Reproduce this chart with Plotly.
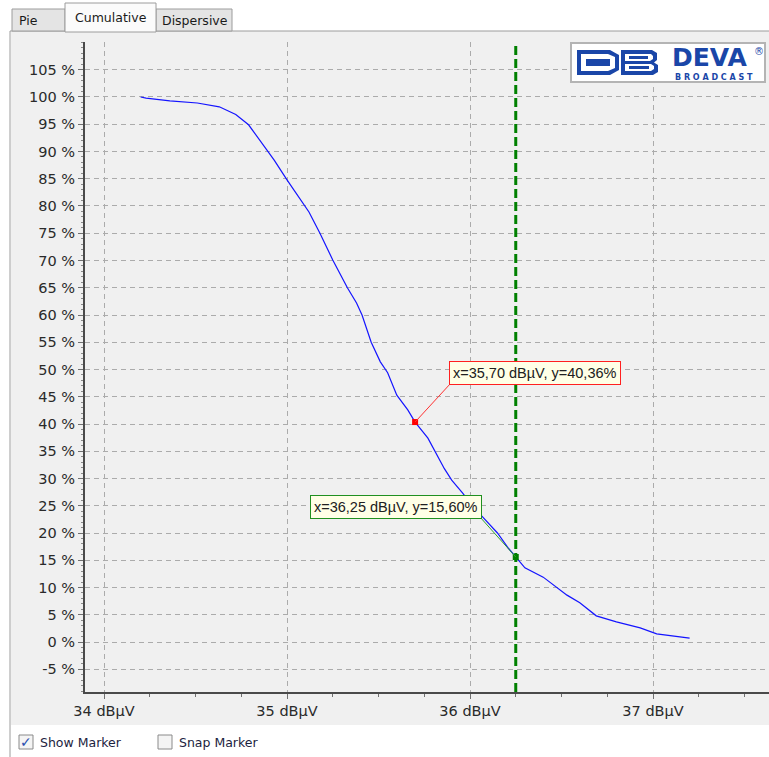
import plotly.graph_objects as go

# Cumulative distribution of measured field strength
level_dbuv = [34.20, 34.23, 34.36, 34.51, 34.63, 34.72, 34.79, 34.89, 34.93, 35.00,
              35.12, 35.18, 35.25, 35.33, 35.38, 35.41, 35.46, 35.51, 35.55, 35.60,
              35.66, 35.70, 35.77, 35.86, 35.90, 35.96, 36.01, 36.07, 36.15, 36.21,
              36.25, 36.30, 36.40, 36.53, 36.60, 36.69, 36.80, 36.93, 37.02, 37.11,
              37.20]
cumulative_pct = [100.0, 99.8, 99.3, 98.9, 98.2, 96.8, 94.9, 90.3, 88.4, 84.8,
                  78.9, 75.0, 70.1, 65.0, 62.2, 60.0, 55.0, 51.4, 49.4, 45.3,
                  42.6, 40.36, 37.4, 31.8, 29.7, 27.3, 25.1, 22.9, 20.0, 17.2,
                  15.60, 13.6, 11.9, 8.6, 7.2, 4.8, 3.7, 2.6, 1.5, 1.1,
                  0.7]

# Markers: (level, percent)
marker_red = (35.70, 40.36)
marker_green = (36.25, 15.60)
cursor_level = 36.25

x_ticks = [34, 35, 36, 37]
x_tick_labels = ["34 dBµV", "35 dBµV", "36 dBµV", "37 dBµV"]
y_ticks = list(range(-5, 110, 5))
y_tick_labels = [f"{v} %" for v in y_ticks]

W, H = 769, 757


def X(px):
    return px / W


def Y(py):
    return 1 - py / H


fig = go.Figure()

fig.add_trace(go.Scatter(
    x=level_dbuv, y=cumulative_pct, mode="lines",
    line=dict(color="#1414ff", width=1.2), hoverinfo="skip", showlegend=False))

fig.add_trace(go.Scatter(
    x=[marker_red[0]], y=[marker_red[1]], mode="markers",
    marker=dict(symbol="square", size=6, color="#ff0000"), showlegend=False))
fig.add_trace(go.Scatter(
    x=[marker_green[0]], y=[marker_green[1]], mode="markers",
    marker=dict(symbol="square", size=6, color="#008000"), showlegend=False))

shapes = []

# window chrome: panel, tabs
shapes.append(dict(type="rect", xref="paper", yref="paper", layer="below",
                   x0=X(11), x1=X(769), y0=Y(725), y1=Y(31),
                   fillcolor="#f0f0f0", line=dict(width=0)))
shapes.append(dict(type="line", xref="paper", yref="paper", layer="below",
                   x0=X(10), x1=X(769), y0=Y(31), y1=Y(31),
                   line=dict(color="#9c9c9c", width=1)))
shapes.append(dict(type="line", xref="paper", yref="paper", layer="below",
                   x0=X(10), x1=X(10), y0=Y(757), y1=Y(31),
                   line=dict(color="#9c9c9c", width=1)))
for x0, x1, top, bottom, fill in [(12, 65, 9, 31, "#e4e4e4"), (156, 232, 9, 31, "#e4e4e4"),
                                  (65, 156, 3, 32, "#fbfbfb")]:
    shapes.append(dict(type="rect", xref="paper", yref="paper", layer="below",
                       x0=X(x0), x1=X(x1), y0=Y(bottom), y1=Y(top),
                       fillcolor=fill, line=dict(color="#9c9c9c", width=1)))

# checkboxes
for cx in (19, 158):
    shapes.append(dict(type="rect", xref="paper", yref="paper",
                       x0=X(cx), x1=X(cx + 14), y0=Y(749), y1=Y(735),
                       fillcolor="#f4f4f4", line=dict(color="#8a8a8a", width=1)))

# logo box
shapes.append(dict(type="rect", xref="paper", yref="paper",
                   x0=X(571), x1=X(765), y0=Y(82), y1=Y(43),
                   fillcolor="#ffffff", line=dict(color="#b4b4b4", width=2)))


def path(points):
    return "M" + " L".join(f"{X(a):.5f},{Y(b):.5f}" for a, b in points) + " Z"


blue = "#1a46a8"
# "D" glyph
shapes.append(dict(type="path", xref="paper", yref="paper", fillcolor=blue, line=dict(width=0),
                   path=path([(577, 50), (610, 50), (619, 55), (619, 70), (610, 75), (577, 75)])))
shapes.append(dict(type="path", xref="paper", yref="paper", fillcolor="#ffffff", line=dict(width=0),
                   path=path([(581, 54), (608, 54), (615, 57), (615, 68), (608, 71), (581, 71)])))
shapes.append(dict(type="rect", xref="paper", yref="paper", fillcolor=blue, line=dict(width=0),
                   x0=X(586), x1=X(610), y0=Y(66), y1=Y(59)))
# "B" glyph
shapes.append(dict(type="path", xref="paper", yref="paper", fillcolor=blue, line=dict(width=0),
                   path=path([(621, 50), (652, 50), (657, 53), (657, 60), (654, 62.5), (658, 65),
                              (658, 72), (653, 75), (621, 75)])))
shapes.append(dict(type="path", xref="paper", yref="paper", fillcolor="#ffffff", line=dict(width=0),
                   path=path([(625, 54), (651, 54), (653, 56), (653, 59), (650, 61), (625, 61)])))
shapes.append(dict(type="path", xref="paper", yref="paper", fillcolor="#ffffff", line=dict(width=0),
                   path=path([(625, 64), (651, 64), (654, 66), (654, 69), (651, 71), (625, 71)])))
shapes.append(dict(type="rect", xref="paper", yref="paper", fillcolor=blue, line=dict(width=0),
                   x0=X(629), x1=X(649), y0=Y(69), y1=Y(66)))
shapes.append(dict(type="rect", xref="paper", yref="paper", fillcolor=blue, line=dict(width=0),
                   x0=X(629), x1=X(648), y0=Y(59), y1=Y(56)))

# cursor line
shapes.append(dict(type="line", xref="x", yref="paper",
                   x0=cursor_level, x1=cursor_level, y0=Y(692), y1=Y(42),
                   line=dict(color="#008000", width=3, dash="9px,4px")))


def label(text, px, py, font, anchor="center", **kw):
    return dict(text=text, x=X(px), y=Y(py), xref="paper", yref="paper",
                xanchor=anchor, yanchor="middle", showarrow=False, font=font, **kw)


ui_font = dict(family="DejaVu Sans", size=12.5, color="#1a1a1a")
chk_font = dict(family="DejaVu Sans", size=12.5, color="#1c2340")
annotations = [
    label("Pie", 28, 20, ui_font),
    label("Cumulative", 111, 17, ui_font),
    label("Dispersive", 195, 20, ui_font),
    label("Show Marker", 38, 742, chk_font, "left"),
    label("Snap Marker", 177, 742, chk_font, "left"),
    label("✓", 26, 742, dict(family="DejaVu Sans", size=14, color="#2a4fb0")),
    label("<b>DEVA</b>", 709, 57.5, dict(family="DejaVu Sans", size=25, color=blue)),
    label("®", 759, 51, dict(family="DejaVu Sans", size=10, color=blue)),
    label("<b>B R O A D C A S T</b>", 714, 77, dict(family="DejaVu Sans", size=8, color=blue)),
    # marker readouts
    dict(x=marker_red[0], y=marker_red[1], xref="x", yref="y",
         text=f"x={marker_red[0]:.2f} dBµV, y={marker_red[1]:.2f}%".replace(".", ","),
         showarrow=True, arrowhead=0, arrowwidth=1, arrowcolor="#ff3030", standoff=0,
         ax=34, ay=-37, xanchor="left", yanchor="bottom",
         bgcolor="#ffffe6", bordercolor="#ff2020", borderwidth=1, borderpad=3,
         font=dict(family="Liberation Sans", size=14.5, color="#202020")),
    dict(x=marker_green[0], y=marker_green[1], xref="x", yref="y",
         text=f"x={marker_green[0]:.2f} dBµV, y={marker_green[1]:.2f}%".replace(".", ","),
         showarrow=True, arrowhead=0, arrowwidth=1, arrowcolor="#30a030", standoff=0,
         ax=-34, ay=-38, xanchor="right", yanchor="bottom",
         bgcolor="#ffffe6", bordercolor="#209020", borderwidth=1, borderpad=3,
         font=dict(family="Liberation Sans", size=14.5, color="#202020")),
]

axis_font = dict(family="DejaVu Sans", size=14.5, color="#2a2a2a")
fig.update_layout(
    width=W, height=H,
    margin=dict(l=0, r=0, t=0, b=0, pad=0, autoexpand=False),
    paper_bgcolor="#ffffff",
    plot_bgcolor="#f0f0f0",
    showlegend=False,
    shapes=shapes,
    annotations=annotations,
    xaxis=dict(
        domain=[X(85), 1], range=[33.8962, 37.6339], automargin=False,
        tickvals=x_ticks, ticktext=x_tick_labels, tickfont=axis_font,
        ticks="outside", ticklen=5, tickcolor="#707070",
        minor=dict(dtick=0.25, ticks="outside", ticklen=3, tickcolor="#707070", showgrid=False),
        showgrid=True, gridcolor="#ababab", griddash="5px,4px", gridwidth=1,
        showline=True, linecolor="#4a4a4a", linewidth=2,
        zeroline=False, fixedrange=True,
    ),
    yaxis=dict(
        domain=[Y(692), Y(42)], range=[-9.174, 110.09], automargin=False,
        tickvals=y_ticks, ticktext=y_tick_labels, tickfont=axis_font,
        ticks="outside", ticklen=5, tickcolor="#707070",
        minor=dict(dtick=1, ticks="outside", ticklen=2, tickcolor="#8a8a8a", showgrid=False),
        showgrid=True, gridcolor="#ababab", griddash="5px,4px", gridwidth=1,
        showline=True, linecolor="#4a4a4a", linewidth=2,
        zeroline=False, fixedrange=True,
    ),
)

fig.write_html("out.html")
